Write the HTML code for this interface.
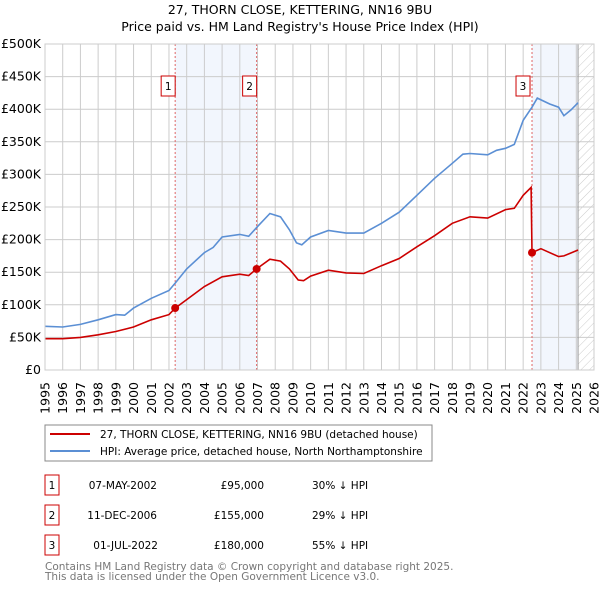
<!DOCTYPE html>
<html><head><meta charset="utf-8"><style>
body{margin:0;background:#fff;width:600px;height:590px;overflow:hidden;font-family:"DejaVu Sans","Liberation Sans",sans-serif}
svg{display:block}
</style></head><body>
<svg id="chart" width="600" height="590" font-family="DejaVu Sans, Liberation Sans, sans-serif">
<defs><pattern id="hatch" width="6" height="6" patternUnits="userSpaceOnUse" patternTransform="rotate(45)"><line x1="0" y1="0" x2="0" y2="6" stroke="#ccc" stroke-width="1"/></pattern></defs>
<text x="300" y="14" text-anchor="middle" font-size="12.5">27, THORN CLOSE, KETTERING, NN16 9BU</text>
<text x="300" y="31" text-anchor="middle" font-size="12.5">Price paid vs. HM Land Registry's House Price Index (HPI)</text>
<g id="plot"></g>
<g>
<rect x="45" y="425" width="387" height="36" fill="#fff" stroke="#888"/>
<line x1="50" y1="434" x2="90" y2="434" stroke="#cc0000" stroke-width="2"/>
<text x="100" y="438" font-size="10.5">27, THORN CLOSE, KETTERING, NN16 9BU (detached house)</text>
<line x1="50" y1="451" x2="90" y2="451" stroke="#5b8fd4" stroke-width="2"/>
<text x="100" y="455" font-size="10.5">HPI: Average price, detached house, North Northamptonshire</text>
</g>
<g font-size="10.5">
<rect x="45" y="475" width="14" height="20" fill="#fff" stroke="#cc0000"/><text x="52" y="489" text-anchor="middle">1</text>
<text x="157" y="489" text-anchor="end">07-MAY-2002</text><text x="264" y="489" text-anchor="end">£95,000</text><text x="312" y="489">30% ↓ HPI</text>
<rect x="45" y="505" width="14" height="20" fill="#fff" stroke="#cc0000"/><text x="52" y="519" text-anchor="middle">2</text>
<text x="157" y="519" text-anchor="end">11-DEC-2006</text><text x="264" y="519" text-anchor="end">£155,000</text><text x="312" y="519">29% ↓ HPI</text>
<rect x="45" y="535" width="14" height="20" fill="#fff" stroke="#cc0000"/><text x="52" y="549" text-anchor="middle">3</text>
<text x="158" y="549" text-anchor="end">01-JUL-2022</text><text x="264" y="549" text-anchor="end">£180,000</text><text x="312" y="549">55% ↓ HPI</text>
</g>
<text x="45" y="570" font-size="10.5" fill="#777">Contains HM Land Registry data © Crown copyright and database right 2025.</text>
<text x="45" y="580" font-size="10.5" fill="#777">This data is licensed under the Open Government Licence v3.0.</text>
</svg>
<script>
const hpiYears=[1995,1996,1997,1998,1999,1999.5,2000,2001,2002,2002.4,2003,2004,2004.5,2005,2006,2006.5,2007,2007.7,2008.3,2008.8,2009.2,2009.5,2010,2011,2012,2013,2014,2015,2016,2017,2018,2018.6,2019,2020,2020.5,2021,2021.5,2022,2022.5,2022.8,2023.5,2024,2024.3,2024.7,2025.1];
const hpiValues=[67,66,70,77,85,84,95,110,122,135,155,180,188,204,208,205,220,240,235,215,195,192,204,214,210,210,225,242,268,294,317,331,332,330,337,340,346,383,403,417,408,403,390,399,410];
const priceYears=[1995,1996,1997,1998,1999,2000,2001,2002,2002.35,2003,2004,2005,2006,2006.5,2006.95,2007.7,2008.3,2008.8,2009.3,2009.6,2010,2011,2012,2013,2014,2015,2016,2017,2018,2019,2020,2021,2021.5,2022,2022.45,2022.5,2023,2024,2024.3,2025.1];
const priceValues=[48,48,50,54,59,66,77,85,95,108,128,143,147,145,155,170,167,155,138,137,144,153,149,148,160,171,189,206,225,235,233,246,248,268,280,180,186,174,175,184];
const saleYears=[2002.35,2006.95,2022.5];
const saleValues=[95,155,180];
const saleLabels=["1","2","3"];
const yTicks=[0,50,100,150,200,250,300,350,400,450,500];
const yTickLabels=["£0","£50K","£100K","£150K","£200K","£250K","£300K","£350K","£400K","£450K","£500K"];
const xTicks=[1995,1996,1997,1998,1999,2000,2001,2002,2003,2004,2005,2006,2007,2008,2009,2010,2011,2012,2013,2014,2015,2016,2017,2018,2019,2020,2021,2022,2023,2024,2025,2026];
const X0=45,X1=594,Y0=370,Y1=44;
const xs=y=>X0+(y-1995)/(2026-1995)*(X1-X0);
const ys=v=>Y0-v/500*(Y0-Y1);
const NS="http://www.w3.org/2000/svg";
const g=document.getElementById('plot');
function mk(t,a){const e=document.createElementNS(NS,t);for(const k in a)e.setAttribute(k,a[k]);g.appendChild(e);return e;}
let s=mk('rect',{x:xs(saleYears[0]),y:Y1,width:xs(saleYears[1])-xs(saleYears[0]),height:Y0-Y1,fill:'#f2f6fd'});


s=mk('rect',{x:xs(saleYears[2]),y:Y1,width:xs(2025.1)-xs(saleYears[2]),height:Y0-Y1,fill:'#f2f6fd'});


s=mk('rect',{x:xs(2025.1),y:Y1,width:X1-xs(2025.1),height:Y0-Y1,fill:'url(#hatch)'});


yTicks.forEach((v,i)=>{
 const l=mk('line',{x1:X0,x2:X1,y1:ys(v),y2:ys(v),stroke:'#ccc'});
 
 
 const t=mk('text',{x:X0-4,y:ys(v)+4,'text-anchor':'end','font-size':'12.5'});
 t.textContent=yTickLabels[i];
 
 
});
xTicks.forEach(yr=>{
 const l=mk('line',{x1:xs(yr),x2:xs(yr),y1:Y1,y2:Y0,stroke:'#ccc'});
 
 
 const x=xs(yr)+4.5,y=Y0+12;
 const t=mk('text',{x:x,y:y,'text-anchor':'end','font-size':'12.5',transform:'rotate(-90 '+x+' '+y+')'});
 t.textContent=yr;
 
 
});
const ed=mk('line',{x1:xs(2025.1),x2:xs(2025.1),y1:Y1,y2:Y0,stroke:'#999'});


saleYears.forEach((yr,i)=>{
 const l=mk('line',{x1:xs(yr),x2:xs(yr),y1:Y1,y2:Y0,stroke:'#e06666','stroke-dasharray':'2,2'});
 
 
});
function path(xa,va){return xa.map((x,i)=>(i?'L':'M')+xs(x).toFixed(1)+','+ys(va[i]).toFixed(1)).join('');}
const hp=mk('path',{d:path(hpiYears,hpiValues),fill:'none',stroke:'#5b8fd4','stroke-width':1.6});


const pp=mk('path',{d:path(priceYears,priceValues),fill:'none',stroke:'#cc0000','stroke-width':1.6});


saleYears.forEach((yr,i)=>{
 const c=mk('circle',{cx:xs(yr),cy:ys(saleValues[i]),r:4,fill:'#cc0000'});
 
 
 const bx=xs(yr)-6-(i==2?2:0);
 const r=mk('rect',{x:bx-8,y:76,width:14,height:20,fill:'#fff',stroke:'#cc0000'});
 
 
 const t=mk('text',{x:bx-1,y:90,'text-anchor':'middle','font-size':'10.5'});
 t.textContent=saleLabels[i];
 
 
});
const fr=mk('rect',{x:X0,y:Y1,width:X1-X0,height:Y0-Y1,fill:'none',stroke:'#ccc'});


</script>
</body></html>
